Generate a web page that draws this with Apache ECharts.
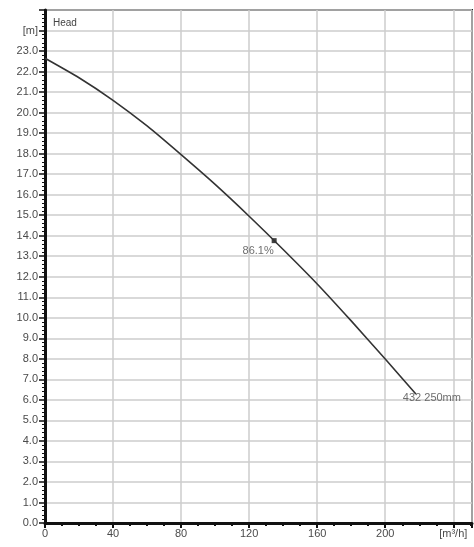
<!DOCTYPE html>
<html>
<head>
<meta charset="utf-8">
<script src="https://cdn.jsdelivr.net/npm/echarts@6/dist/echarts.min.js"></script>
<style>html,body{margin:0;padding:0;background:#fff}#c{width:474px;height:547px}</style>
</head>
<body>
<div id="c"></div>
<script>
var flow = [0, 20, 40, 60, 80, 100, 120, 140, 160, 180, 200, 218];
var head = [22.65, 21.7, 20.6, 19.35, 17.95, 16.5, 14.95, 13.33, 11.65, 9.85, 7.99, 6.29];
var bepPoint = [134.7, 13.76];
var bepLabel = '86.1%';
var endPoint = [218, 6.29];
var endLabel = '432 250mm';
var curveName = 'Head';
var xUnit = '[m³/h]';
var yUnit = '[m]';

var chart = echarts.init(document.getElementById('c'), null, {renderer: 'canvas'});
var labelStyle = {color: '#4a4a4a', fontSize: 11, fontFamily: 'Liberation Sans, Arial, sans-serif'};
chart.setOption({
  animation: false,
  title: {text: curveName, left: 48, top: 13, textStyle: {color: '#444', fontSize: 10, fontWeight: 'normal', fontFamily: 'Liberation Sans, Arial, sans-serif'}},
  grid: {left: 45, right: 2, top: 10, bottom: 24, show: true, borderColor: '#222', borderWidth: 2, backgroundColor: '#fff'},
  xAxis: {
    type: 'value', min: 0, max: 251, interval: 40,
    axisLine: {show: true, lineStyle: {color: '#111', width: 3}},
    axisTick: {show: true, length: 5, lineStyle: {color: '#111', width: 2}},
    minorTick: {show: true, splitNumber: 4, length: 3, lineStyle: {color: '#111', width: 2}},
    splitLine: {show: true, lineStyle: {color: '#ccc', width: 1.5}},
    axisLabel: Object.assign({margin: 5, showMaxLabel: false, formatter: function (v) { return v === 240 ? xUnit : String(v); }}, labelStyle)
  },
  yAxis: {
    type: 'value', min: 0, max: 25, interval: 1,
    axisLine: {show: true, lineStyle: {color: '#111', width: 3}},
    axisTick: {show: true, length: 6, lineStyle: {color: '#111', width: 1.5}},
    minorTick: {show: true, splitNumber: 5, length: 3, lineStyle: {color: '#111', width: 1}},
    splitLine: {show: true, lineStyle: {color: '#ccc', width: 1.5}},
    axisLabel: Object.assign({margin: 7, formatter: function (v) { if (v === 24) return yUnit; if (v === 25) return ''; return v.toFixed(1); }}, labelStyle)
  },
  series: [
    {
      type: 'line', smooth: 0.2, symbol: 'none',
      lineStyle: {color: '#333', width: 1.6},
      data: flow.map(function (f, i) { return [f, head[i]]; })
    },
    {
      type: 'scatter', symbol: 'rect', symbolSize: 5,
      itemStyle: {color: '#111'},
      label: Object.assign({show: true, position: 'bottom', distance: 2, offset: [-16, 0], formatter: bepLabel}, labelStyle),
      data: [bepPoint]
    },
    {
      type: 'scatter', symbolSize: 0,
      label: Object.assign({show: true, position: 'right', distance: 0, offset: [-13, 4], formatter: endLabel}, labelStyle),
      data: [endPoint]
    }
  ]
});
</script>
</body>
</html>
